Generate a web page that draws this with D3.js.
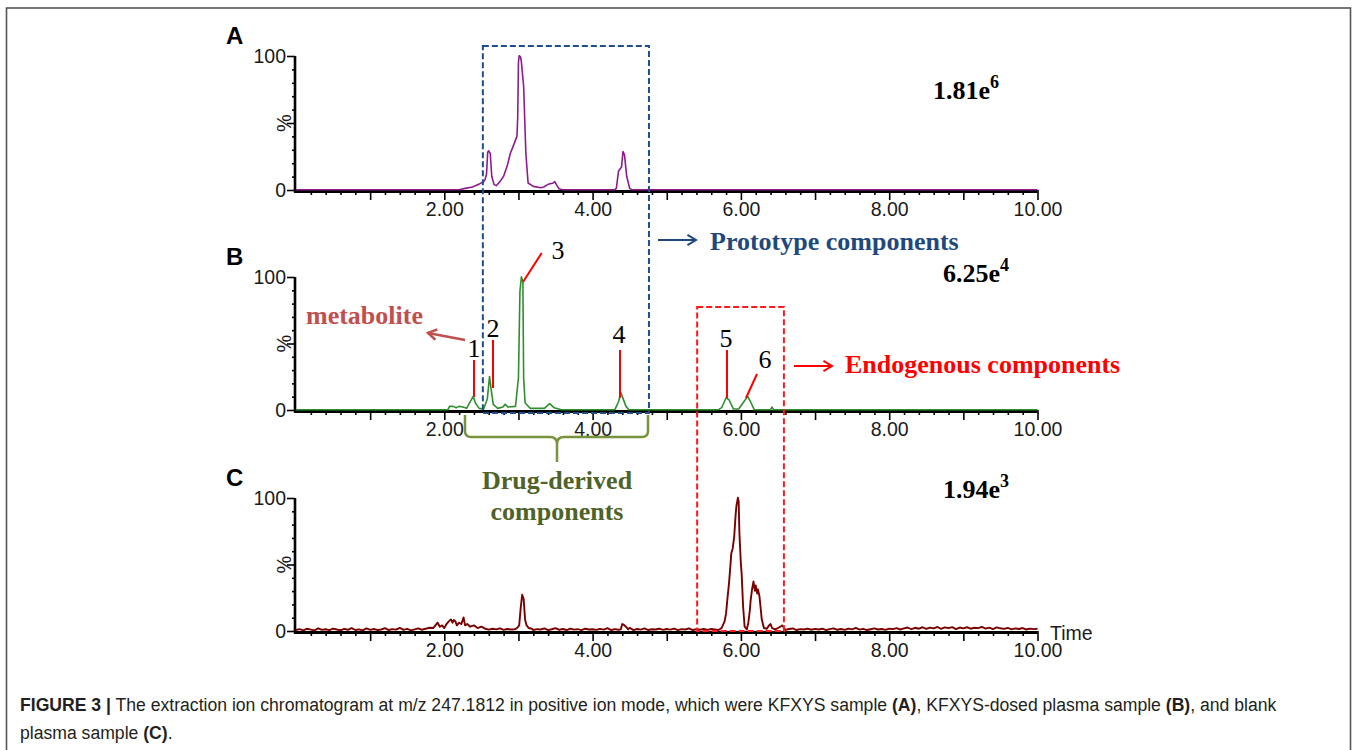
<!DOCTYPE html>
<html><head><meta charset="utf-8">
<script src="https://cdn.jsdelivr.net/npm/d3@7"></script>
<style>body{margin:0;background:#fff}svg{display:block}</style>
</head><body>
<svg id="c" width="1354" height="750"></svg>
<script>
// ---------------- data ----------------
const panelLetters = ["A", "B", "C"];
const intensityBase = ["1.81e", "6.25e", "1.94e"];
const intensityExp = ["6", "4", "3"];
const xTickLabelValues = [2, 4, 6, 8, 10];
const xTickLabels = ["2.00", "4.00", "6.00", "8.00", "10.00"];
const yTickLabelValues = [0, 100];
const yTickLabels = ["0", "100"];

// [time (min), relative intensity %]
const seriesA = [[0,0],[2.2,0],[2.28,1],[2.38,2],[2.48,4.5],[2.53,6],[2.55,7.5],[2.57,12],[2.585,28],[2.6,29],[2.62,27],[2.64,10],[2.67,4],[2.7,3],[2.75,6],[2.8,10],[2.85,18],[2.89,27],[2.94,34],[2.98,40],[2.99,54],[3.0,95],[3.01,100],[3.03,99],[3.04,95],[3.07,77],[3.1,27],[3.13,5],[3.2,2.5],[3.3,1.5],[3.34,2],[3.4,4],[3.47,5],[3.49,6],[3.52,3],[3.55,0.5],[3.6,0],[4.3,0],[4.32,1],[4.35,14],[4.39,17],[4.41,28.5],[4.43,26],[4.46,10],[4.5,1],[4.53,0],[10,0]];

const seriesB = [[0,0],[2.05,0],[2.07,2.5],[2.12,2.5],[2.16,1.5],[2.2,2.5],[2.25,2],[2.3,1],[2.35,6],[2.39,10],[2.42,5],[2.47,1],[2.53,0.5],[2.58,8],[2.61,25],[2.63,16],[2.66,4],[2.72,1],[2.79,2],[2.82,4],[2.86,2],[2.96,2.5],[3.0,24],[3.02,89],[3.04,100],[3.06,96],[3.07,24],[3.09,5],[3.16,1],[3.35,1],[3.42,4.5],[3.48,1.5],[3.58,0],[4.3,0],[4.35,6],[4.38,13],[4.4,10],[4.45,2.5],[4.49,0],[5.7,0],[5.74,1.5],[5.8,9],[5.84,7.5],[5.9,0.5],[5.97,0.5],[6.04,6],[6.09,10],[6.13,6],[6.18,0],[6.4,0],[6.42,2],[6.44,0],[10,0]];

// blank plasma: baseline noise sampled every 0.05 min from 0 to 10
const cNoiseStep = 0.05;
const cNoise = [0.5,1.2,0.3,1.5,0.8,0.2,1.8,0.6,1.1,0.4,1.6,0.9,0.3,1.4,0.7,2.0,0.5,1.0,0.2,1.7,0.6,
1.3,0.4,0.9,1.9,0.5,1.2,0.8,2.1,0.6,1.4,0.3,1.0,1.8,0.7,1.5,2.2,1.1,0.9,1.6,2.0,
1.5,2.0,1.8,2.2,1.6,2.5,1.4,1.9,2.1,1.2,1.7,0.8,1.5,1.0,1.8,0.6,1.3,0.9,1.6,0.7,
1.0,0.6,1.4,0.5,1.2,0.9,1.7,0.4,1.1,2.0,0.7,1.3,0.5,1.6,0.8,1.2,0.4,1.5,0.9,1.1,
0.6,1.4,0.8,1.9,0.5,1.2,0.7,1.6,1.0,2.2,0.4,1.3,0.8,1.7,0.5,1.1,0.9,1.5,0.6,1.3,
0.8,1.6,0.4,1.2,0.9,1.8,0.5,1.1,0.7,1.4,0.6,1.3,0.9,1.0,0.8,1.2,0.5,1.0,0.6,0.8,
1.0,0.7,1.2,0.9,1.5,0.6,1.1,2.0,1.4,0.8,1.9,0.6,1.3,1.7,0.5,1.2,0.9,1.6,0.7,1.4,
0.9,1.5,0.5,1.2,1.8,0.7,1.3,0.6,1.6,1.0,2.1,0.8,1.4,0.5,1.1,1.7,0.9,1.3,0.6,1.5,
1.2,2.0,0.9,1.8,2.4,1.1,2.2,1.5,2.6,1.3,2.3,1.7,2.8,1.4,2.5,1.9,2.7,1.2,2.4,1.8,
2.6,1.5,2.2,1.9,2.9,1.6,2.3,1.2,2.5,1.8,1.4,2.1,1.0,1.7,1.3,2.0,0.9,1.6,1.2,1.5];
// peak regions of the blank trace [time, %]
const cPeaks = [[1.85,2],[1.88,4],[1.91,6],[1.94,3],[1.97,4],[2.0,2],[2.03,5],[2.06,7],[2.09,8.5],[2.11,6],[2.13,8],[2.15,7],[2.17,4],[2.2,6],[2.23,5],[2.26,10],[2.28,4],[2.31,5],[2.35,3],[2.4,4],[2.45,2],[2.5,3],[2.55,1.5],
[2.95,1],[2.98,2],[3.01,4],[3.03,17],[3.05,27],[3.07,24],[3.09,8],[3.11,4],[3.14,2],[3.18,1.5],
[4.38,1],[4.4,5],[4.42,4.5],[4.45,3],[4.48,1],
[5.65,1],[5.7,0.5],[5.74,2],[5.78,7],[5.8,13],[5.82,25],[5.84,36],[5.86,50],[5.87,58],[5.89,62],[5.91,71],[5.93,88],[5.94,94],[5.96,100],[5.97,97],[5.98,73],[6.0,50],[6.01,43],[6.03,18],[6.05,3],[6.08,1],[6.1,6],[6.12,15],[6.13,22],[6.15,31],[6.17,37],[6.18,33],[6.19,30],[6.2,34],[6.22,28],[6.23,31],[6.25,26],[6.27,15],[6.28,9],[6.31,2],[6.35,1.5],[6.38,4],[6.4,5],[6.42,2],[6.46,1],[6.5,2],[6.53,3],[6.56,4],[6.58,2]];
const cPeakWindows = [[1.85,2.55],[2.95,3.18],[4.38,4.48],[5.65,6.58]];

const peakLabels = ["1","2","3","4","5","6"];

// ---------------- layout ----------------
const svg = d3.select("#c");
const SANS = "'Liberation Sans', Arial, sans-serif";
const SERIF = "'Liberation Serif', 'Times New Roman', serif";
const x = d3.scaleLinear().domain([0, 10]).range([296, 1037.5]);
const panels = [
  {y: d3.scaleLinear().domain([0,100]).range([190, 56]), color: "#8e1b8e", w: 1.6},
  {y: d3.scaleLinear().domain([0,100]).range([410, 277]), color: "#2f8f2f", w: 1.6},
  {y: d3.scaleLinear().domain([0,100]).range([631, 498]), color: "#7a0000", w: 1.9}
];

const seriesC = [];
cNoise.forEach((v, i) => {
  const t = +(i * cNoiseStep).toFixed(3);
  if (!cPeakWindows.some(w => t >= w[0] && t <= w[1])) seriesC.push([t, v]);
});
cPeaks.forEach(p => seriesC.push(p));
seriesC.sort((a, b) => a[0] - b[0]);
const allSeries = [seriesA, seriesB, seriesC];

// frame
svg.append("rect").attr("x", 6.5).attr("y", 8).attr("width", 1344).attr("height", 760)
  .attr("fill", "none").attr("stroke", "#555").attr("stroke-width", 1.6);

const intensityPos = [[933, 99], [943, 282], [943, 498]];

panels.forEach((p, i) => {
  const g = svg.append("g");
  const y0 = p.y(0);
  const minor = d3.range(1, 50).map(k => k * 0.2).filter(v => Math.abs(v - Math.round(v)) > 1e-6);
  const gx1 = g.append("g").attr("transform", `translate(0,${y0})`)
    .call(d3.axisBottom(x).tickValues(minor).tickSize(5).tickFormat(""));
  const gx2 = g.append("g").attr("transform", `translate(0,${y0})`)
    .call(d3.axisBottom(x).tickValues([1,3,5,7,9,2,4,6,8,10]).tickSize(10).tickFormat(""));
  const gx3 = g.append("g").attr("transform", `translate(0,${y0 + 12})`)
    .call(d3.axisBottom(x).tickValues(xTickLabelValues).tickSize(0).tickPadding(0)
      .tickFormat((d, k) => xTickLabels[k]));
  [gx1, gx2, gx3].forEach(a => {
    a.select(".domain").remove();
    a.selectAll("line").attr("stroke", "#000").attr("stroke-width", 1.6);
  });
  gx3.selectAll("text").attr("font-family", SANS).attr("font-size", 19.5).attr("fill", "#1a1a1a").attr("dy", "0.71em");

  const gy1 = g.append("g").attr("transform", `translate(${x(0) - 1},0)`)
    .call(d3.axisLeft(p.y).tickValues([10,20,30,40,60,70,80,90]).tickSize(3).tickFormat(""));
  const gy2 = g.append("g").attr("transform", `translate(${x(0) - 1},0)`)
    .call(d3.axisLeft(p.y).tickValues([0,50,100]).tickSize(8).tickFormat(""));
  const gy3 = g.append("g").attr("transform", `translate(${x(0) - 9},0)`)
    .call(d3.axisLeft(p.y).tickValues(yTickLabelValues).tickSize(0).tickPadding(1)
      .tickFormat((d, k) => yTickLabels[k]));
  [gy1, gy2, gy3].forEach(a => {
    a.select(".domain").remove();
    a.selectAll("line").attr("stroke", "#000").attr("stroke-width", 1.6);
  });
  gy3.selectAll("text").attr("font-family", SANS).attr("font-size", 19.5).attr("fill", "#1a1a1a");

  g.append("line").attr("x1", x(0) - 1).attr("x2", x(0) - 1).attr("y1", p.y(100)).attr("y2", y0 + 2.5)
    .attr("stroke", "#000").attr("stroke-width", 2.6);
  g.append("line").attr("x1", x(0) - 2).attr("x2", x(10)).attr("y1", y0 + 1.4).attr("y2", y0 + 1.4)
    .attr("stroke", "#000").attr("stroke-width", 3);

  g.append("text").attr("transform", `translate(${x(0) - 12},${p.y(50)}) rotate(-90)`)
    .attr("text-anchor", "middle").attr("dy", "0.35em")
    .attr("font-family", SANS).attr("font-size", 20).attr("fill", "#1a1a1a").text("%");

  g.append("text").attr("x", 226).attr("y", p.y(100) - 12)
    .attr("font-family", SANS).attr("font-weight", "bold").attr("font-size", 24).attr("fill", "#000")
    .text(panelLetters[i]);

  g.append("path").datum(allSeries[i])
    .attr("d", d3.line().x(d => x(d[0])).y(d => p.y(d[1]) - 0.3))
    .attr("fill", "none").attr("stroke", p.color).attr("stroke-width", p.w).attr("stroke-linejoin", "round");

  const it = g.append("text").attr("x", intensityPos[i][0]).attr("y", intensityPos[i][1])
    .attr("font-family", SERIF).attr("font-weight", "bold").attr("font-size", 26).attr("fill", "#000");
  it.append("tspan").text(intensityBase[i]);
  it.append("tspan").attr("font-size", 18).attr("dy", -11).text(intensityExp[i]);
});

svg.append("text").attr("x", 1050).attr("y", 640).attr("font-family", SANS).attr("font-size", 19.5)
  .attr("fill", "#1a1a1a").text("Time");

// ---------------- annotations ----------------
const B = panels[1].y, C = panels[2].y;
const blueBox = {t0: 2.52, t1: 4.76};
svg.append("rect").attr("x", x(blueBox.t0)).attr("y", 46).attr("width", x(blueBox.t1) - x(blueBox.t0))
  .attr("height", B(0) + 3 - 46).attr("fill", "none").attr("stroke", "#1f4e8c").attr("stroke-width", 2)
  .attr("stroke-dasharray", "6,3");
const redBox = {t0: 5.41, t1: 6.58};
svg.append("rect").attr("x", x(redBox.t0)).attr("y", 307).attr("width", x(redBox.t1) - x(redBox.t0))
  .attr("height", C(0) - 307).attr("fill", "none").attr("stroke", "#ff1a1a").attr("stroke-width", 2)
  .attr("stroke-dasharray", "6,3");

function arrow(x1, y1, x2, y2, color, w) {
  const g = svg.append("g").attr("stroke", color).attr("stroke-width", w).attr("fill", "none");
  g.append("line").attr("x1", x1).attr("y1", y1).attr("x2", x2).attr("y2", y2);
  const ang = Math.atan2(y2 - y1, x2 - x1), L = 10, a = 0.55;
  g.append("path").attr("d", `M${x2 - L * Math.cos(ang - a)},${y2 - L * Math.sin(ang - a)} L${x2},${y2} L${x2 - L * Math.cos(ang + a)},${y2 - L * Math.sin(ang + a)}`);
}

arrow(658, 240, 696, 240, "#1F497D", 2);
svg.append("text").attr("x", 710).attr("y", 250).attr("font-family", SERIF).attr("font-weight", "bold")
  .attr("font-size", 26).attr("fill", "#1F497D").text("Prototype components");
arrow(794, 366, 832, 366, "#FF0000", 2);
svg.append("text").attr("x", 845).attr("y", 373).attr("font-family", SERIF).attr("font-weight", "bold")
  .attr("font-size", 26).attr("fill", "#FF0000").text("Endogenous components");
arrow(465, 340, 428, 333, "#C0504D", 2.5);
svg.append("text").attr("x", 306).attr("y", 324).attr("font-family", SERIF).attr("font-weight", "bold")
  .attr("font-size", 26).attr("fill", "#C0504D").text("metabolite");

const numPos = [[474, 357], [493, 337], [558, 259], [619, 343], [726, 347], [765, 368]];
const leaders = [[474, 360, 474, 397], [493, 340, 493, 388], [541.7, 253, 523, 282], [620, 350, 620, 398], [727, 350, 727, 398], [757, 374, 746, 398]];
peakLabels.forEach((l, k) => {
  svg.append("line").attr("x1", leaders[k][0]).attr("y1", leaders[k][1]).attr("x2", leaders[k][2]).attr("y2", leaders[k][3])
    .attr("stroke", "#FF0000").attr("stroke-width", 2);
  svg.append("text").attr("x", numPos[k][0]).attr("y", numPos[k][1]).attr("text-anchor", "middle")
    .attr("font-family", SERIF).attr("font-size", 26).attr("fill", "#000").text(l);
});

svg.append("path").attr("d", "M465,415 V431 Q465,437 471,437 H550 Q557,437 557,444 V462 M557,444 Q557,437 564,437 H642 Q648,437 648,431 V415")
  .attr("fill", "none").attr("stroke", "#77933C").attr("stroke-width", 2.5);
const dd = svg.append("text").attr("font-family", SERIF).attr("font-weight", "bold").attr("font-size", 26)
  .attr("fill", "#4F6228").attr("text-anchor", "middle");
dd.append("tspan").attr("x", 557).attr("y", 489).text("Drug-derived");
dd.append("tspan").attr("x", 557).attr("y", 520).text("components");

// ---------------- caption ----------------
const line1 = [["FIGURE 3 |", true], [" The extraction ion chromatogram at m/z 247.1812 in positive ion mode, which were KFXYS sample ", false], ["(A)", true], [", KFXYS-dosed plasma sample ", false], ["(B)", true], [", and blank", false]];
const line2 = [["plasma sample ", false], ["(C)", true], [".", false]];
const l1 = svg.append("text").attr("x", 20).attr("y", 711).attr("font-family", SANS).attr("fill", "#231f20").attr("font-size", 17);
line1.forEach(s => l1.append("tspan").attr("font-weight", s[1] ? "bold" : "normal").text(s[0]));
const w = l1.node().getComputedTextLength();
const fs = 17 * 1257 / w;
l1.attr("font-size", fs);
const l2 = svg.append("text").attr("x", 20).attr("y", 739).attr("font-family", SANS).attr("fill", "#231f20").attr("font-size", fs);
line2.forEach(s => l2.append("tspan").attr("font-weight", s[1] ? "bold" : "normal").text(s[0]));
</script>
</body></html>
